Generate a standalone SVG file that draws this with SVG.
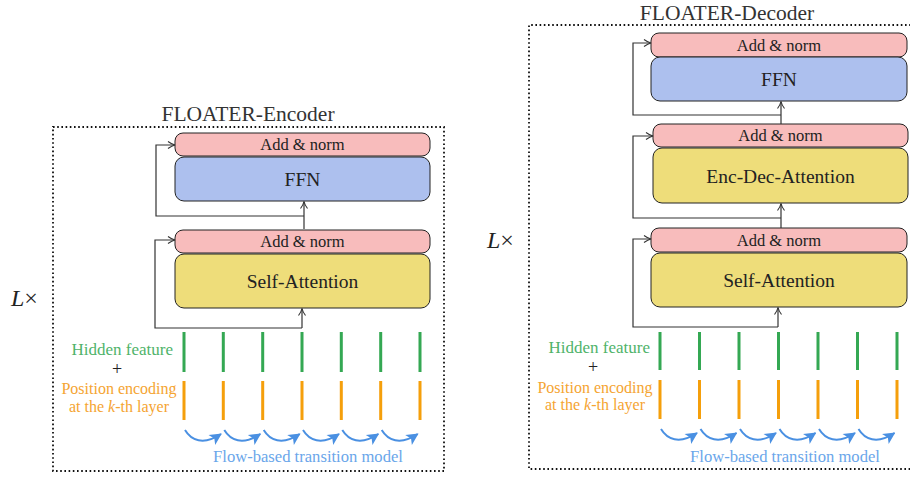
<svg xmlns="http://www.w3.org/2000/svg" width="910" height="477" viewBox="0 0 910 477">
<style>
text{font-family:"Liberation Serif","Times New Roman",serif;fill:#222}
.frame{fill:none;stroke:#111;stroke-width:1.8;stroke-dasharray:1.6 2.6}
.title{font-size:21.5px;text-anchor:middle;fill:#333}
.norm{fill:#f8bcbc;stroke:#222;stroke-width:1}
.ffn{fill:#adc0ee;stroke:#222;stroke-width:1}
.att{fill:#eedd7a;stroke:#222;stroke-width:1}
.lbl{text-anchor:middle;font-size:19.5px}
.lbls{text-anchor:middle;font-size:16.5px}
.conn{fill:none;stroke:#333;stroke-width:1.2}
.hid{stroke:#34a853;stroke-width:3}
.pos{stroke:#f59f0b;stroke-width:3}
.flow{fill:none;stroke:#4a90e2;stroke-width:2}
.tg{fill:#4fb36a;font-size:17px;text-anchor:end}
.to{fill:#f5a431;font-size:16px;text-anchor:middle}
.tb{fill:#6aa6ea;font-size:16.6px;text-anchor:middle}
.plus{font-size:18px;text-anchor:middle;fill:#222}
.lx{font-size:24px;fill:#222}
</style>
<defs>
<marker id="open" viewBox="-8 -5 9 10" refX="0" refY="0" markerWidth="9" markerHeight="10" markerUnits="userSpaceOnUse" orient="auto">
<path d="M-7,-3.5 Q-3,-0.6 0,0 Q-3,0.6 -7,3.5" fill="none" stroke="#333" stroke-width="1.1"/>
</marker>
<marker id="fill" viewBox="-12 -7 13 14" refX="0" refY="0" markerWidth="13" markerHeight="14" markerUnits="userSpaceOnUse" orient="auto">
<path d="M-11,-6 L1,0 L-11,6 L-8,0 z" fill="#4a90e2"/>
</marker>
</defs>

<!-- Encoder -->
<g id="encoder-frame">
<rect class="frame" x="53" y="127" width="391" height="344"/>
<text class="title" x="248" y="121">FLOATER-Encoder</text>
</g>
<g id="enc-lx"><text class="lx" x="11" y="306"><tspan font-style="italic">L</tspan>×</text></g>
<g id="enc-addnorm2"><rect class="norm" x="175" y="133" width="255" height="23" rx="8"/><text class="lbls" x="302.5" y="150">Add &amp; norm</text></g>
<g id="enc-ffn"><rect class="ffn" x="175" y="157" width="255" height="44" rx="9"/><text class="lbl" x="302.5" y="186">FFN</text></g>
<g id="enc-addnorm1"><rect class="norm" x="175" y="230" width="255" height="23" rx="8"/><text class="lbls" x="302.5" y="247">Add &amp; norm</text></g>
<g id="enc-selfatt"><rect class="att" x="175" y="254" width="255" height="54" rx="9"/><text class="lbl" x="302.5" y="288">Self-Attention</text></g>

<!-- Decoder -->
<g id="decoder-frame">
<path class="frame" d="M915,25 H529 V469 H915"/>
<text class="title" x="727" y="19.5">FLOATER-Decoder</text>
</g>
<g id="dec-lx"><text class="lx" x="487" y="248"><tspan font-style="italic">L</tspan>×</text></g>
<g id="dec-addnorm3"><rect class="norm" x="651" y="33" width="256" height="24" rx="8"/><text class="lbls" x="779" y="51">Add &amp; norm</text></g>
<g id="dec-ffn"><rect class="ffn" x="651" y="57" width="256" height="44" rx="9"/><text class="lbl" x="779" y="86">FFN</text></g>
<g id="dec-addnorm2"><rect class="norm" x="653" y="124" width="255" height="23" rx="8"/><text class="lbls" x="780.5" y="141">Add &amp; norm</text></g>
<g id="dec-encdec"><rect class="att" x="653" y="148" width="255" height="55" rx="9"/><text class="lbl" x="780.5" y="182.5">Enc-Dec-Attention</text></g>
<g id="dec-addnorm1"><rect class="norm" x="651" y="228" width="256" height="24" rx="8"/><text class="lbls" x="779" y="246">Add &amp; norm</text></g>
<g id="dec-selfatt"><rect class="att" x="651" y="253" width="256" height="54" rx="9"/><text class="lbl" x="779" y="287">Self-Attention</text></g>

<!-- Connectors -->
<g id="connectors">
<path class="conn" d="M304,229 V201.5" marker-end="url(#open)"/>
<path class="conn" d="M304,216 H156 V145 H175" marker-end="url(#open)"/>
<path class="conn" d="M302,328 V308.5" marker-end="url(#open)"/>
<path class="conn" d="M302,328 H155 V240 H175" marker-end="url(#open)"/>

<path class="conn" d="M781,124 V101.5" marker-end="url(#open)"/>
<path class="conn" d="M781,115 H633 V43 H651" marker-end="url(#open)"/>
<path class="conn" d="M781,228 V203.5" marker-end="url(#open)"/>
<path class="conn" d="M781,218 H633 V136 H653" marker-end="url(#open)"/>
<path class="conn" d="M778,327 V307.5" marker-end="url(#open)"/>
<path class="conn" d="M778,327 H633 V239 H651" marker-end="url(#open)"/>

<!-- flow arrows encoder -->
<path class="flow" d="M185,430 C191,440 203,446 221,434" marker-end="url(#fill)"/>
<path class="flow" d="M224.3,430 C230.3,440 242.3,446 260.3,434" marker-end="url(#fill)"/>
<path class="flow" d="M263.7,430 C269.7,440 281.7,446 299.7,434" marker-end="url(#fill)"/>
<path class="flow" d="M303,430 C309,440 321,446 339,434" marker-end="url(#fill)"/>
<path class="flow" d="M342.3,430 C348.3,440 360.3,446 378.3,434" marker-end="url(#fill)"/>
<path class="flow" d="M381.7,430 C387.7,440 399.7,446 417.7,434" marker-end="url(#fill)"/>
<!-- flow arrows decoder -->
<path class="flow" d="M661,429 C667,439 679,445 697,433" marker-end="url(#fill)"/>
<path class="flow" d="M700.5,429 C706.5,439 718.5,445 736.5,433" marker-end="url(#fill)"/>
<path class="flow" d="M740,429 C746,439 758,445 776,433" marker-end="url(#fill)"/>
<path class="flow" d="M779.5,429 C785.5,439 797.5,445 815.5,433" marker-end="url(#fill)"/>
<path class="flow" d="M819,429 C825,439 837,445 855,433" marker-end="url(#fill)"/>
<path class="flow" d="M858.5,429 C864.5,439 876.5,445 894.5,433" marker-end="url(#fill)"/>
</g>

<!-- Encoder tokens -->
<g id="enc-hidden">
<path class="hid" d="M184,332 V372 M223.3,332 V372 M262.7,332 V372 M302,332 V372 M341.3,332 V372 M380.7,332 V372 M420,332 V372"/>
<text class="tg" x="173" y="354.5">Hidden feature</text>
<text class="plus" x="117" y="375">+</text>
</g>
<g id="enc-pos">
<path class="pos" d="M184,381 V420 M223.3,381 V420 M262.7,381 V420 M302,381 V420 M341.3,381 V420 M380.7,381 V420 M420,381 V420"/>
<text class="to" x="119" y="393.5">Position encoding</text>
<text class="to" x="119" y="411.5">at the <tspan font-style="italic">k</tspan>-th layer</text>
</g>
<g id="enc-flow-label"><text class="tb" x="308" y="462">Flow-based transition model</text></g>

<!-- Decoder tokens -->
<g id="dec-hidden">
<path class="hid" d="M660,332 V370 M699.5,332 V370 M739,332 V370 M778.5,332 V370 M818,332 V370 M857.5,332 V370 M897,332 V370"/>
<text class="tg" x="650" y="352.5">Hidden feature</text>
<text class="plus" x="593" y="373">+</text>
</g>
<g id="dec-pos">
<path class="pos" d="M660,380 V419 M699.5,380 V419 M739,380 V419 M778.5,380 V419 M818,380 V419 M857.5,380 V419 M897,380 V419"/>
<text class="to" x="595" y="392.5">Position encoding</text>
<text class="to" x="595" y="409.5">at the <tspan font-style="italic">k</tspan>-th layer</text>
</g>
<g id="dec-flow-label"><text class="tb" x="785" y="462">Flow-based transition model</text></g>
</svg>
